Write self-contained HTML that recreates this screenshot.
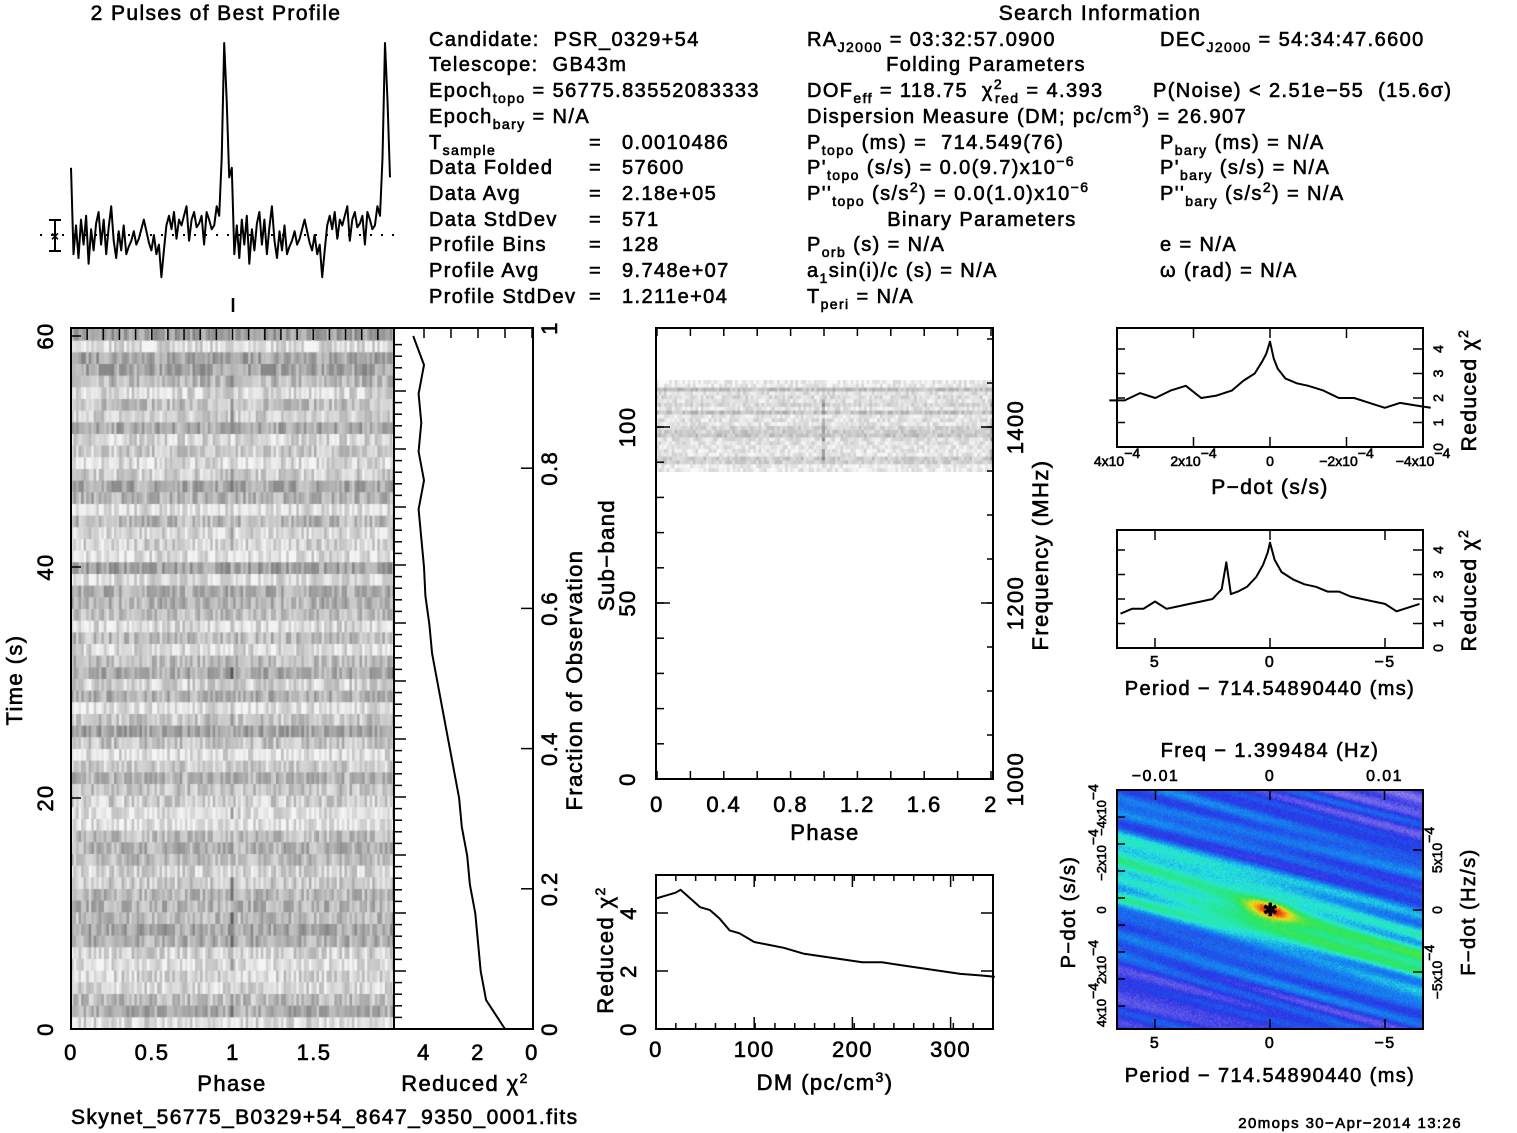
<!DOCTYPE html>
<html><head><meta charset="utf-8">
<style>
body{margin:0;background:#fff;width:1517px;height:1133px;overflow:hidden;position:relative;font-family:"Liberation Sans",sans-serif}
canvas{position:absolute}
svg{position:absolute;left:0;top:0}
svg text{font-family:"Liberation Sans",sans-serif;fill:#000;white-space:pre;letter-spacing:1.4px}
svg text.sm{letter-spacing:0}
</style></head><body>
<canvas id="tp" style="left:71px;top:329px" width="324" height="700"></canvas>
<canvas id="sb" style="left:656px;top:380px" width="337" height="92"></canvas>
<canvas id="pp" style="left:1117px;top:791px" width="306" height="238"></canvas>
<svg id="s" width="1517" height="1133"></svg>
<script>
// ---- data ----
const profilePulse=[35,-10,5,-12,8,-5,10,-15,3,-8,6,12,-5,8,-10,4,15,-3,-12,2,-8,5,-10,-6,-3,2,-5,-2,3,8,2,-4,-8,0,-10,-5,-22,-8,5,10,3,12,-2,8,5,10,15,-3,8,12,4,6,10,-5,12,8,3,5,15,10,40,100,70,30];
const chiTimeT=[0,2.5,5,7.5,10,12.5,15,17.5,20,22.5,25,27.5,30,32.5,35,37.5,40,42.5,45,47.5,50,52.5,55,57.5,60];
const chiTimeV=[1.0,1.7,1.9,2.0,2.1,2.3,2.4,2.6,2.7,2.9,3.1,3.3,3.5,3.7,3.8,3.95,4.0,4.1,4.2,4.0,4.2,4.1,4.2,4.0,4.4];
const dmX=[0,10,20,25,35,45,55,65,75,85,100,115,130,150,170,190,210,230,250,270,290,310,330,345];
const dmV=[4.5,4.6,4.7,4.8,4.5,4.2,4.1,3.8,3.4,3.3,3.0,2.9,2.8,2.6,2.5,2.4,2.3,2.3,2.2,2.1,2.0,1.9,1.85,1.8];
const pdX=[4.2,3.8,3.4,3.0,2.6,2.2,1.8,1.4,1.0,0.7,0.4,0.2,0.1,0,-0.1,-0.2,-0.4,-0.7,-1.0,-1.4,-1.8,-2.2,-2.6,-3.0,-3.4,-3.8,-4.2];
const pdV=[1.9,1.9,2.2,2.0,2.3,2.5,2.0,2.1,2.3,2.7,3.0,3.5,3.8,4.3,3.6,3.2,2.8,2.6,2.5,2.3,2.0,2.0,1.8,1.6,1.8,1.7,1.6];
const perX=[6.5,6,5.5,5,4.5,4,3.5,3,2.5,2.1,1.9,1.7,1.4,1,0.6,0.3,0.1,0,-0.2,-0.5,-1,-1.5,-2,-2.5,-3,-3.5,-4,-4.5,-5,-5.5,-6.5];
const perV=[1.4,1.6,1.6,1.9,1.6,1.7,1.8,1.9,2.0,2.4,3.5,2.2,2.3,2.5,2.9,3.4,3.9,4.3,3.6,3.1,2.8,2.6,2.5,2.3,2.3,2.1,2.0,1.9,1.8,1.5,1.8];

const S=document.getElementById('s');const NS='http://www.w3.org/2000/svg';
function el(t,a,name){const e=document.createElementNS(NS,t);for(const k in a)e.setAttribute(k,a[k]);


S.appendChild(e);return e;}
function ln(x1,y1,x2,y2,w){return el('line',{x1,y1,x2,y2,stroke:'#000','stroke-width':w||2},'tick');}
function tx(x,y,s,o){o=o||{};const e=el('text',{x,y,'font-size':o.fs||20,'text-anchor':o.a||'start',stroke:'#000','stroke-width':0.6},o.n||'label');
if((o.fs||20)<=14)e.setAttribute('class','sm');
if(o.r)e.setAttribute('transform','rotate('+o.r+' '+x+' '+y+')');e.innerHTML=s;return e;}
function box(x,y,w,h,n){el('rect',{x,y,width:w,height:h,fill:'none',stroke:'#000','stroke-width':2},n);}
function sub(s){return '<tspan baseline-shift="-6" font-size="14">'+s+'</tspan>';}
function sup(s){return '<tspan baseline-shift="8" font-size="14">'+s+'</tspan>';}
function poly(pts,n){el('polyline',{points:pts.map(p=>p[0].toFixed(1)+','+p[1].toFixed(1)).join(' '),fill:'none',stroke:'#000','stroke-width':2,'stroke-linejoin':'round'},n);}
function hTicks(y,x0,x1,v0,v1,step,len,dir){for(let v=v0;v<=v1+1e-9;v+=step){const x=x0+(v-v0)/(v1-v0)*(x1-x0);ln(x,y,x,y+dir*len,1.5);}}
function vTicks(x,y0,y1,v0,v1,step,len,dir){for(let v=v0;v<=v1+1e-9;v+=step){const y=y0+(v-v0)/(v1-v0)*(y1-y0);ln(x,y,x+dir*len,y,1.5);}}

// ---- profile ----
tx(216,20,'2 Pulses of Best Profile',{a:'middle',fs:21,n:'profile-title'});
const prof=profilePulse.concat(profilePulse);
const px=i=>71+i*(319/127), py=v=>235-v*1.92;
poly(prof.map((v,i)=>[px(i),py(v)]),'profile-line');
el('line',{x1:40,y1:235,x2:395,y2:235,stroke:'#000','stroke-width':2,'stroke-dasharray':'2 9'},'profile-mean');
ln(55,220,55,251,2);ln(49,220,61,220,2);ln(49,251,61,251,2);tx(55,241,'×',{a:'middle',fs:14,n:'error-bar'});
ln(233,298,233,312,2.5);

// ---- info text ----
const L=[429,807,1160];const R=[39,64,90,116,142,167,193,219,244,270,296];
const c1=['Candidate:  PSR_0329+54','Telescope:  GB43m','Epoch'+sub('topo')+' = 56775.83552083333','Epoch'+sub('bary')+' = N/A','T'+sub('sample'),'Data Folded','Data Avg','Data StdDev','Profile Bins','Profile Avg','Profile StdDev'];
const c1v=[null,null,null,null,'0.0010486','57600','2.18e+05','571','128','9.748e+07','1.211e+04'];
c1.forEach((s,i)=>{tx(L[0],R[i]+7,s,{n:'info-label'});if(c1v[i]){tx(589,R[i]+7,'=',{n:'info-eq'});tx(622,R[i]+7,c1v[i],{n:'info-value'});}});
tx(1100,20,'Search Information',{a:'middle',fs:21,n:'search-info-title'});
tx(807,46,'RA'+sub('J2000')+' = 03:32:57.0900',{n:'ra'});
tx(1160,46,'DEC'+sub('J2000')+' = 54:34:47.6600',{n:'dec'});
tx(986,71,'Folding Parameters',{a:'middle',n:'folding-header'});
tx(807,97,'DOF'+sub('eff')+' = 118.75  χ'+sup('2')+'<tspan dx="-8" baseline-shift="-6" font-size="14">red</tspan> = 4.393',{n:'dof'});
tx(1153,97,'P(Noise) &lt; 2.51e−55  (15.6σ)',{n:'pnoise'});
tx(807,123,'Dispersion Measure (DM; pc/cm'+sup('3')+') = 26.907',{n:'dm'});
tx(807,149,'P'+sub('topo')+' (ms) =  714.549(76)',{n:'ptopo'});
tx(1160,149,'P'+sub('bary')+' (ms) = N/A',{n:'pbary'});
tx(807,174,'P\''+sub('topo')+' (s/s) = 0.0(9.7)x10'+sup('−6'),{n:'pdtopo'});
tx(1160,174,'P\''+sub('bary')+' (s/s) = N/A',{n:'pdbary'});
tx(807,200,'P\'\''+sub('topo')+' (s/s'+sup('2')+') = 0.0(1.0)x10'+sup('−6'),{n:'pddtopo'});
tx(1160,200,'P\'\''+sub('bary')+' (s/s'+sup('2')+') = N/A',{n:'pddbary'});
tx(982,226,'Binary Parameters',{a:'middle',n:'binary-header'});
tx(807,251,'P'+sub('orb')+' (s) = N/A',{n:'porb'});tx(1160,251,'e = N/A',{n:'ecc'});
tx(807,277,'a'+sub('1')+'sin(i)/c (s) = N/A',{n:'asini'});tx(1160,277,'ω (rad) = N/A',{n:'omega'});
tx(807,303,'T'+sub('peri')+' = N/A',{n:'tperi'});

// ---- time-phase image (texture) ----
let seed=7;function rnd(){seed=(seed*16807)%2147483647;return seed/2147483647;}
(function(){const c=document.getElementById('tp').getContext('2d');const rows=60,bins=64;const rh=700/rows,bw=324/128;
for(let r=0;r<rows;r++){const base=140+rnd()*70;for(let b=0;b<bins;b++){let v=base+rnd()*70-15;if(b==63&&rnd()<0.4)v-=60;v=Math.max(70,Math.min(245,v));
c.fillStyle='rgb('+(v|0)+','+(v|0)+','+(v|0)+')';c.fillRect(b*bw,r*rh,bw+0.5,rh+0.5);c.fillRect((b+64)*bw,r*rh,bw+0.5,rh+0.5);}}})();
box(71,328,323,701,'time-phase-frame');
hTicks(328,71,394,0,2,0.1,12,1);
vTicks(71,1029,336,0,60,20,10,1);
['0','0.5','1','1.5'].forEach((s,i)=>tx(71+i*81,1060,s,{a:'middle',fs:22,n:'phase-tick'}));
['0','20','40','60'].forEach((s,i)=>tx(53,1029-i*231,s,{a:'middle',fs:22,r:-90,n:'time-tick'}));
tx(232,1091,'Phase',{a:'middle',fs:22,n:'x-axis-title'});
tx(22,680,'Time (s)',{a:'middle',fs:22,r:-90,n:'y-axis-title'});

// ---- chi2 vs time ----
box(394,328,139,701,'chi-time-frame');
const cx=v=>532-v*27, cy=t=>1029-t*(693/60);
poly(chiTimeT.map((t,i)=>[cx(chiTimeV[i]),cy(t)]),'chi-time-line');
for(let k=0;k<60;k++){const y=1029-k*11.6;ln(394,y,k%5==0?406:402,y,1.5);}
hTicks(328,424,532,0,4,1,10,1);
for(let v=0;v<=1.0001;v+=0.2){const y=1029-v*701;ln(533,y,521,y,1.5);tx(557,y,(v==0||v>0.99)?String(Math.round(v)):v.toFixed(1),{a:'middle',fs:22,r:-90,n:'fraction-tick'});}
['4','2','0'].forEach((s,i)=>tx(424+i*54,1060,s,{a:'middle',fs:22,n:'chi-tick'}));
tx(465,1091,'Reduced χ'+sup('2'),{a:'middle',fs:22,n:'chi-axis-title'});
tx(582,680,'Fraction of Observation',{a:'middle',fs:22,r:-90,n:'fraction-title'});

// ---- subband ----
(function(){const c=document.getElementById('sb').getContext('2d');const rows=24,bins=64,rh=92/rows,bw=337/128;
for(let r=0;r<rows;r++){const edge=(r<2||r>21);const base=edge?225:180+rnd()*40;for(let b=0;b<bins;b++){let v=base+rnd()*45-12;if(b==63&&!edge)v-=90*rnd();v=Math.max(40,Math.min(250,v));
c.fillStyle='rgb('+(v|0)+','+(v|0)+','+(v|0)+')';c.fillRect(b*bw,r*rh,bw+0.5,rh+0.5);c.fillRect((b+64)*bw,r*rh,bw+0.5,rh+0.5);}}})();
box(656,328,337,451,'subband-frame');
hTicks(328,657,991,0,2,0.2,8,1);hTicks(779,657,991,0,2,0.2,8,-1);
vTicks(656,779,427,0,100,10,8,1);vTicks(656,779,427,0,100,50,14,1);
[0,50,100].forEach(v=>tx(635,779-v*3.52,String(v),{a:'middle',fs:22,r:-90,n:'subband-tick'}));
[['1000',779],['1200',603],['1400',427]].forEach(a=>{ln(993,a[1],981,a[1],1.5);tx(1023,a[1],a[0],{a:'middle',fs:22,r:-90,n:'freq-tick'});});
for(let y=779;y>330;y-=44)ln(993,y,987,y,1.5);
['0','0.4','0.8','1.2','1.6','2'].forEach((s,i)=>tx(657+i*66.8,812,s,{a:'middle',fs:22,n:'subband-phase-tick'}));
tx(825,840,'Phase',{a:'middle',fs:22,n:'subband-x-title'});
tx(614,555,'Sub−band',{a:'middle',fs:22,r:-90,n:'subband-y-title'});
tx(1048,555,'Frequency (MHz)',{a:'middle',fs:22,r:-90,n:'freq-title'});

// ---- DM ----
box(656,875,337,154,'dm-frame');
const dx=v=>656+v*0.982, dy=v=>1029-v*29;
poly(dmX.map((d,i)=>[dx(d),dy(dmV[i])]),'dm-line');
hTicks(1029,656,993,0,340,20,6,-1);hTicks(875,656,993,0,340,20,6,1);
[0,100,200,300].forEach(v=>{ln(dx(v),1029,dx(v),1017,1.5);ln(dx(v),875,dx(v),887,1.5);tx(dx(v),1057,String(v),{a:'middle',fs:22,n:'dm-tick'});});
[0,2,4].forEach(v=>{ln(656,dy(v),668,dy(v),1.5);ln(993,dy(v),981,dy(v),1.5);tx(636,dy(v),String(v),{a:'middle',fs:22,r:-90,n:'dm-chi-tick'});});
tx(825,1090,'DM (pc/cm'+sup('3')+')',{a:'middle',fs:22,n:'dm-title'});
tx(613,950,'Reduced χ'+sup('2'),{a:'middle',fs:22,r:-90,n:'dm-chi-title'});

// ---- P-dot ----
box(1117,328,306,119,'pdot-frame');
const qx=v=>1270-v*38.25, qy=v=>447-v*24.5;
poly(pdX.map((p,i)=>[qx(p),qy(pdV[i])]),'pdot-line');
[4,2,0,-2,-4].forEach(v=>{ln(qx(v),447,qx(v),437,1.5);ln(qx(v),328,qx(v),338,1.5);});
[0,1,2,3,4].forEach(v=>{ln(1423,qy(v),1413,qy(v),1.5);ln(1117,qy(v),1125,qy(v),1.5);tx(1443,qy(v),String(v),{a:'middle',fs:14,r:-90,n:'pdot-chi-tick'});});
[['4x10'+sup('−4'),4],['2x10'+sup('−4'),2],['0',0],['−2x10'+sup('−4'),-2],['−4x10'+sup('−4'),-4]].forEach(a=>tx(qx(a[1]),466,a[0],{a:'middle',fs:14,n:'pdot-tick'}));
tx(1270,494,'P−dot (s/s)',{a:'middle',fs:21,n:'pdot-title'});
tx(1476,390,'Reduced χ'+sup('2'),{a:'middle',fs:21,r:-90,n:'pdot-chi-title'});

// ---- period ----
box(1117,530,306,118,'period-frame');
const ex=v=>1270-v*23, ey=v=>648-v*24.5;
poly(perX.map((p,i)=>[ex(p),ey(perV[i])]),'period-line');
[5,0,-5].forEach(v=>{ln(ex(v),648,ex(v),638,1.5);ln(ex(v),530,ex(v),540,1.5);tx(ex(v),667,v<0?'−5':String(v),{a:'middle',fs:16,n:'period-tick'});});
[0,1,2,3,4].forEach(v=>{ln(1423,ey(v),1413,ey(v),1.5);ln(1117,ey(v),1125,ey(v),1.5);tx(1443,ey(v),String(v),{a:'middle',fs:14,r:-90,n:'period-chi-tick'});});
tx(1270,695,'Period − 714.54890440 (ms)',{a:'middle',fs:20,n:'period-title'});
tx(1476,590,'Reduced χ'+sup('2'),{a:'middle',fs:21,r:-90,n:'period-chi-title'});

// ---- P-Pdot map (texture) ----
(function(){const c=document.getElementById('pp').getContext('2d');const W=306,H=238;const img=c.createImageData(W,H);
const stops=[[0,[235,225,250]],[0.15,[150,130,235]],[0.3,[40,50,230]],[0.45,[20,140,240]],[0.55,[40,230,220]],[0.68,[40,230,90]],[0.82,[240,220,20]],[0.92,[240,90,20]],[1,[200,20,20]]];
function cm(v){v=Math.max(0,Math.min(1,v));for(let i=1;i<stops.length;i++)if(v<=stops[i][0]){const a=stops[i-1],b=stops[i],f=(v-a[0])/(b[0]-a[0]);return a[1].map((q,k)=>q+(b[1][k]-q)*f);}return stops[stops.length-1][1];}
const st=[];for(let k=0;k<30;k++)st.push([5+rnd()*40,rnd()*6.28,rnd()*3]);
for(let y=0;y<H;y++)for(let x=0;x<W;x++){const u=(x-153)/153,w=(y-119)/119;const d=w-0.4*u;const along=u+0.4*w;
let v=0.26*Math.exp(-d*d/0.12)+0.32*Math.exp(-(d*d/0.005+along*along/0.03))+0.07*Math.exp(-(d*d/0.02+along*along/0.25))+0.05*Math.exp(-(d+0.75)*(d+0.75)/0.01)+0.06*Math.exp(-(d-0.75)*(d-0.75)/0.015);
let s=0;for(let k=0;k<st.length;k++){s+=Math.sin(d*st[k][0]+st[k][1]+along*st[k][2]);}
v+=0.34+s*0.013-0.12*Math.max(0,Math.abs(d)-0.6)+(rnd()-0.5)*0.07;v=Math.min(v,0.7+0.3*Math.exp(-(u*u+w*w)/0.02));const col=cm(v);const i=(y*W+x)*4;img.data[i]=col[0];img.data[i+1]=col[1];img.data[i+2]=col[2];img.data[i+3]=255;}
c.putImageData(img,0,0);})();
box(1117,790,306,239,'ppdot-frame');
tx(1271,911,'✱',{a:'middle',fs:18,n:'best-marker'}).setAttribute('dominant-baseline','middle');
[5,0,-5].forEach(v=>{ln(ex(v),1029,ex(v),1019,1.5);tx(ex(v),1048,v<0?'−5':String(v),{a:'middle',fs:16,n:'ppdot-period-tick'});});
[[-0.01,'−0.01'],[0,'0'],[0.01,'0.01']].forEach(a=>{const x=1270+a[0]*11450;ln(x,790,x,800,1.5);tx(x,781,a[1],{a:'middle',fs:16,n:'ppdot-freq-tick'});});
tx(1270,757,'Freq − 1.399484 (Hz)',{a:'middle',fs:20,n:'ppdot-freq-title'});
tx(1270,1082,'Period − 714.54890440 (ms)',{a:'middle',fs:20,n:'ppdot-period-title'});
[['4x10'+sup('−4'),1005],['2x10'+sup('−4'),962],['0',910],['−2x10'+sup('−4'),855],['−4x10'+sup('−4'),810]].forEach(a=>{tx(1106,a[1],a[0],{a:'middle',fs:13,r:-90,n:'ppdot-pdot-tick'});});
for(let y=790;y<=1029;y+=27)ln(1117,y,1125,y,1.5);
[['5x10'+sup('−4'),850],['0',910],['−5x10'+sup('−4'),972]].forEach(a=>{ln(1423,a[1],1413,a[1],1.5);tx(1442,a[1],a[0],{a:'middle',fs:14,r:-90,n:'ppdot-fdot-tick'});});
tx(1075,912,'P−dot (s/s)',{a:'middle',fs:20,r:-90,n:'ppdot-pdot-title'});
tx(1475,912,'F−dot (Hz/s)',{a:'middle',fs:20,r:-90,n:'ppdot-fdot-title'});

tx(71,1124,'Skynet_56775_B0329+54_8647_9350_0001.fits',{fs:21,n:'filename'});
tx(1462,1128,'20mops 30−Apr−2014 13:26',{a:'end',fs:15,n:'timestamp'});
</script>
</body></html>
